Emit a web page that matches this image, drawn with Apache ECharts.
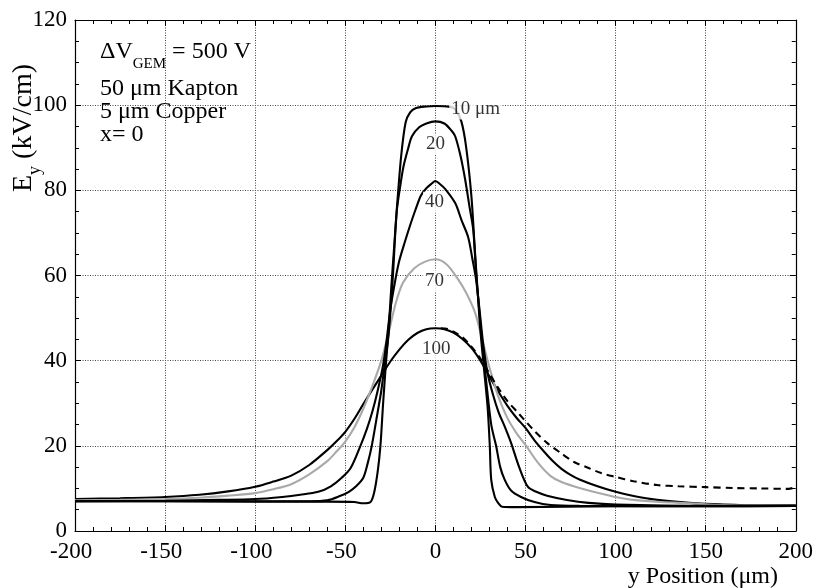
<!DOCTYPE html>
<html><head><meta charset="utf-8">
<script src="https://cdn.jsdelivr.net/npm/echarts/dist/echarts.min.js"></script>
<style>html,body{margin:0;padding:0;background:#fff}#c{width:816px;height:588px}</style>
</head><body><div id="c"></div>
<script>
// E_y (kV/cm) vs y position (um) for different hole diameters
const curve10 = [[-200,7.0],[-150,7.0],[-100,6.9],[-60,6.9],[-45,6.8],[-40,6.5],[-36,6.8],[-34,9],[-32,14],[-30.5,20],[-29,30],[-27.5,39],[-26,47],[-24.5,57],[-23,66],[-21.5,75],[-19,88],[-16.5,96],[-14,98.3],[-11,99.3],[-5,99.7],[0,99.8],[8,99.6],[11,99],[14.4,96.2],[17,90.4],[20,78.6],[22,65.4],[23.5,56],[25,47],[27,38],[29,29],[30.2,20],[31,12],[33,8],[34.8,6.6],[37,5.7],[45,5.6],[100,5.8],[150,5.8],[200,5.9]];
const curve20 = [[-200,7.0],[-150,7.0],[-100,7.0],[-70,7.0],[-60,7.2],[-53,8.2],[-48,9.2],[-44,10.5],[-40,12.5],[-37.5,16],[-35.3,20],[-32,28],[-30,33],[-28,39.5],[-26,46],[-23.7,59],[-21.5,74.8],[-19.5,81],[-17.7,85.6],[-15,90],[-13,92.7],[-9,94.8],[-5,95.7],[0,96.2],[5,95.7],[9,94],[11,92.7],[14,88],[16.5,82.6],[19,76],[21,70.8],[22.6,60.7],[24.5,51],[26.5,42],[28.5,34],[31,25],[33.7,20],[36,15],[38.5,12],[42,9.5],[47.5,8],[55,6.8],[64,6.1],[80,5.9],[150,5.8],[200,5.9]];
const curve40 = [[-200,7.0],[-150,7.1],[-120,7.3],[-100,7.5],[-85,8.0],[-75,8.5],[-65,9.2],[-58,10.5],[-52,12.5],[-47,14.8],[-41.6,20],[-38,24],[-35,28],[-32,33],[-29,39],[-27,45],[-25,52],[-22.2,59],[-20,63.5],[-17,67.8],[-14,71.8],[-11,75.5],[-8,78.8],[-5,80.5],[-2,81.6],[0,82.2],[2.5,81.5],[5.5,80.3],[11,77],[14.5,73],[18.2,69],[20.5,64],[22.6,59],[24.5,52],[26.5,44],[29,37],[32,32],[35,28],[38.5,24.5],[42,20.7],[46.5,15],[51.3,10.4],[56,9.2],[62,8.3],[73,7.3],[85,6.6],[100,6.2],[150,5.9],[200,5.9]];
const curve70 = [[-200,7.2],[-175,7.3],[-150,7.5],[-131,7.8],[-115,8.3],[-100,8.9],[-90,9.8],[-80,11],[-70,13.3],[-60,16.4],[-55,18.6],[-50,21],[-45,24.3],[-40,28.7],[-35,34],[-30,40],[-26,46.5],[-22,53.5],[-18,58.3],[-12,61.6],[-6,63.2],[0,63.8],[6,62.7],[12,59.5],[17,56],[22,51.3],[26,45],[29,40],[32,35.5],[35,31.5],[40,26.5],[45,23],[50,20.2],[57,16],[64,12.9],[70,11.5],[80,10.1],[90,9],[100,8],[110,7.3],[125,6.8],[141,6.5],[160,6.1],[180,6.0],[200,6.0]];
const curve100 = [[-200,7.5],[-175,7.7],[-150,8.0],[-131,8.5],[-115,9.3],[-100,10.4],[-90,11.6],[-80,13.0],[-70,15.5],[-60,19],[-55,21],[-50,23.3],[-45,26.3],[-40,29.8],[-35,33.2],[-30,36.5],[-25,39.8],[-20,42.6],[-15,44.9],[-10,46.5],[-5,47.4],[0,47.6],[5,47.4],[10,46.6],[15,45.1],[20,43],[25,40],[30,36.3],[35,32.7],[40,29.4],[45,26.6],[50,24.2],[55,21.3],[60,18.8],[65,16.5],[70,14.6],[75,13.2],[80,12.1],[90,10.5],[100,9.2],[110,8.2],[123,7.3],[141,6.6],[160,6.2],[180,6.0],[200,6.0]];
const curveDashed = [[3,47.6],[7,47.4],[10,46.8],[15,45.5],[20,43.3],[25,40.5],[30,37],[35,33.5],[40,30.5],[46,27.7],[50,25.8],[55,23.5],[62,20.7],[70,18.2],[77,16.2],[85,14.8],[92,13.6],[100,12.7],[110,11.7],[123,10.8],[135,10.5],[150,10.3],[165,10.1],[180,10.0],[196,9.9],[200,10.3]];

const labelX = [22.3, 0, -0.5, -0.5, 0.5];
const labelY = [99.1, 90.8, 77.2, 58.8, 42.8];
const labelText = ['10 μm', '20', '40', '70', '100'];

const xMin = -200, xMax = 200, xStep = 50;
const yMin = 0, yMax = 120, yStep = 20;

const FONT = 'Liberation Serif, Times New Roman, serif';
const chart = echarts.init(document.getElementById('c'));

const labelData = labelX.map((x, i) => [x, labelY[i], labelText[i]]);

function lineSeries(data, color, dashed) {
  return {
    type: 'line', data: data, symbol: 'none', showSymbol: false,
    smooth: 0.3,
    lineStyle: { color: color, width: 2.1, type: dashed ? [7, 5] : 'solid' },
    z: 3, animation: false
  };
}

const axisCommon = {
  type: 'value',
  axisLine: { show: true, onZero: false, lineStyle: { color: '#000', width: 1.2 } },
  axisTick: { show: true, inside: true, length: 6, lineStyle: { color: '#000' } },
  minorTick: { show: true, length: 4, lineStyle: { color: '#000' } }
};

chart.setOption({
  animation: false,
  backgroundColor: '#fff',
  grid: { left: 75, right: 16, top: 20, bottom: 57, containLabel: false },
  xAxis: [
    Object.assign({}, axisCommon, {
      min: xMin, max: xMax, interval: xStep, position: 'bottom',
      minorTick: Object.assign({}, axisCommon.minorTick, { splitNumber: 5 }),
      axisLabel: {
        color: '#000', fontFamily: FONT, fontSize: 23, margin: 9,
        formatter: v => v < 0 ? (String(v) + '{h|-}') : String(v),
        rich: { h: { color: 'rgba(0,0,0,0)', fontFamily: FONT, fontSize: 23 } }
      },
      splitLine: { show: true, lineStyle: { color: '#444', width: 1, type: [1, 1.5] } }
    }),
    Object.assign({}, axisCommon, {
      min: xMin, max: xMax, interval: xStep, position: 'top',
      minorTick: Object.assign({}, axisCommon.minorTick, { splitNumber: 5 }),
      axisLabel: { show: false }, splitLine: { show: false }
    })
  ],
  yAxis: [
    Object.assign({}, axisCommon, {
      min: yMin, max: yMax, interval: yStep, position: 'left',
      minorTick: Object.assign({}, axisCommon.minorTick, { splitNumber: 4 }),
      axisLabel: { color: '#000', fontFamily: FONT, fontSize: 23, margin: 8 },
      splitLine: { show: true, lineStyle: { color: '#444', width: 1, type: [1, 1.5] } }
    }),
    Object.assign({}, axisCommon, {
      min: yMin, max: yMax, interval: yStep, position: 'right',
      minorTick: Object.assign({}, axisCommon.minorTick, { splitNumber: 4 }),
      axisLabel: { show: false }, splitLine: { show: false }
    })
  ],
  series: [
    lineSeries(curve100, '#000', false),
    lineSeries(curve70, '#a9a9a9', false),
    lineSeries(curve40, '#000', false),
    lineSeries(curve20, '#000', false),
    lineSeries(curve10, '#000', false),
    lineSeries(curveDashed, '#000', true),
    {
      type: 'scatter', data: labelData, symbolSize: 1, z: 10,
      itemStyle: { color: 'rgba(0,0,0,0)' },
      label: {
        show: true, position: 'inside', formatter: p => p.data[2],
        color: '#000', fontFamily: FONT, fontSize: 19,
        backgroundColor: '#fff', padding: [1, 2]
      },
      emphasis: { disabled: true }, silent: true
    }
  ],
  graphic: [
    {
      type: 'text', left: 100, top: 40,
      style: {
        text: '{a|ΔV}{s|GEM}{a| = 500 V}',
        rich: {
          a: { fontFamily: FONT, fontSize: 24, fill: '#000', lineHeight: 32, verticalAlign: 'top' },
          s: { fontFamily: FONT, fontSize: 15, fill: '#000', lineHeight: 15, verticalAlign: 'bottom' }
        }
      }
    },
    { type: 'text', left: 100, top: 77, style: { text: '50 μm Kapton', fontFamily: FONT, fontSize: 24, fill: '#000' } },
    { type: 'text', left: 100, top: 100, style: { text: '5 μm Copper', fontFamily: FONT, fontSize: 24, fill: '#000' } },
    { type: 'text', left: 100, top: 123, style: { text: 'x= 0', fontFamily: FONT, fontSize: 24, fill: '#000' } },
    {
      type: 'text', x: 27, y: 128, rotation: Math.PI / 2,
      style: {
        text: '{a|E}{s|y}{a| (kV/cm)}', align: 'center', verticalAlign: 'middle',
        rich: {
          a: { fontFamily: FONT, fontSize: 28, fill: '#000', lineHeight: 34, verticalAlign: 'top' },
          s: { fontFamily: FONT, fontSize: 18, fill: '#000', lineHeight: 18, verticalAlign: 'bottom' }
        }
      }
    },
    {
      type: 'text', x: 778, y: 577,
      style: { text: 'y Position (μm)', fontFamily: FONT, fontSize: 24, fill: '#000', align: 'right', verticalAlign: 'middle' }
    }
  ]
});
</script></body></html>
